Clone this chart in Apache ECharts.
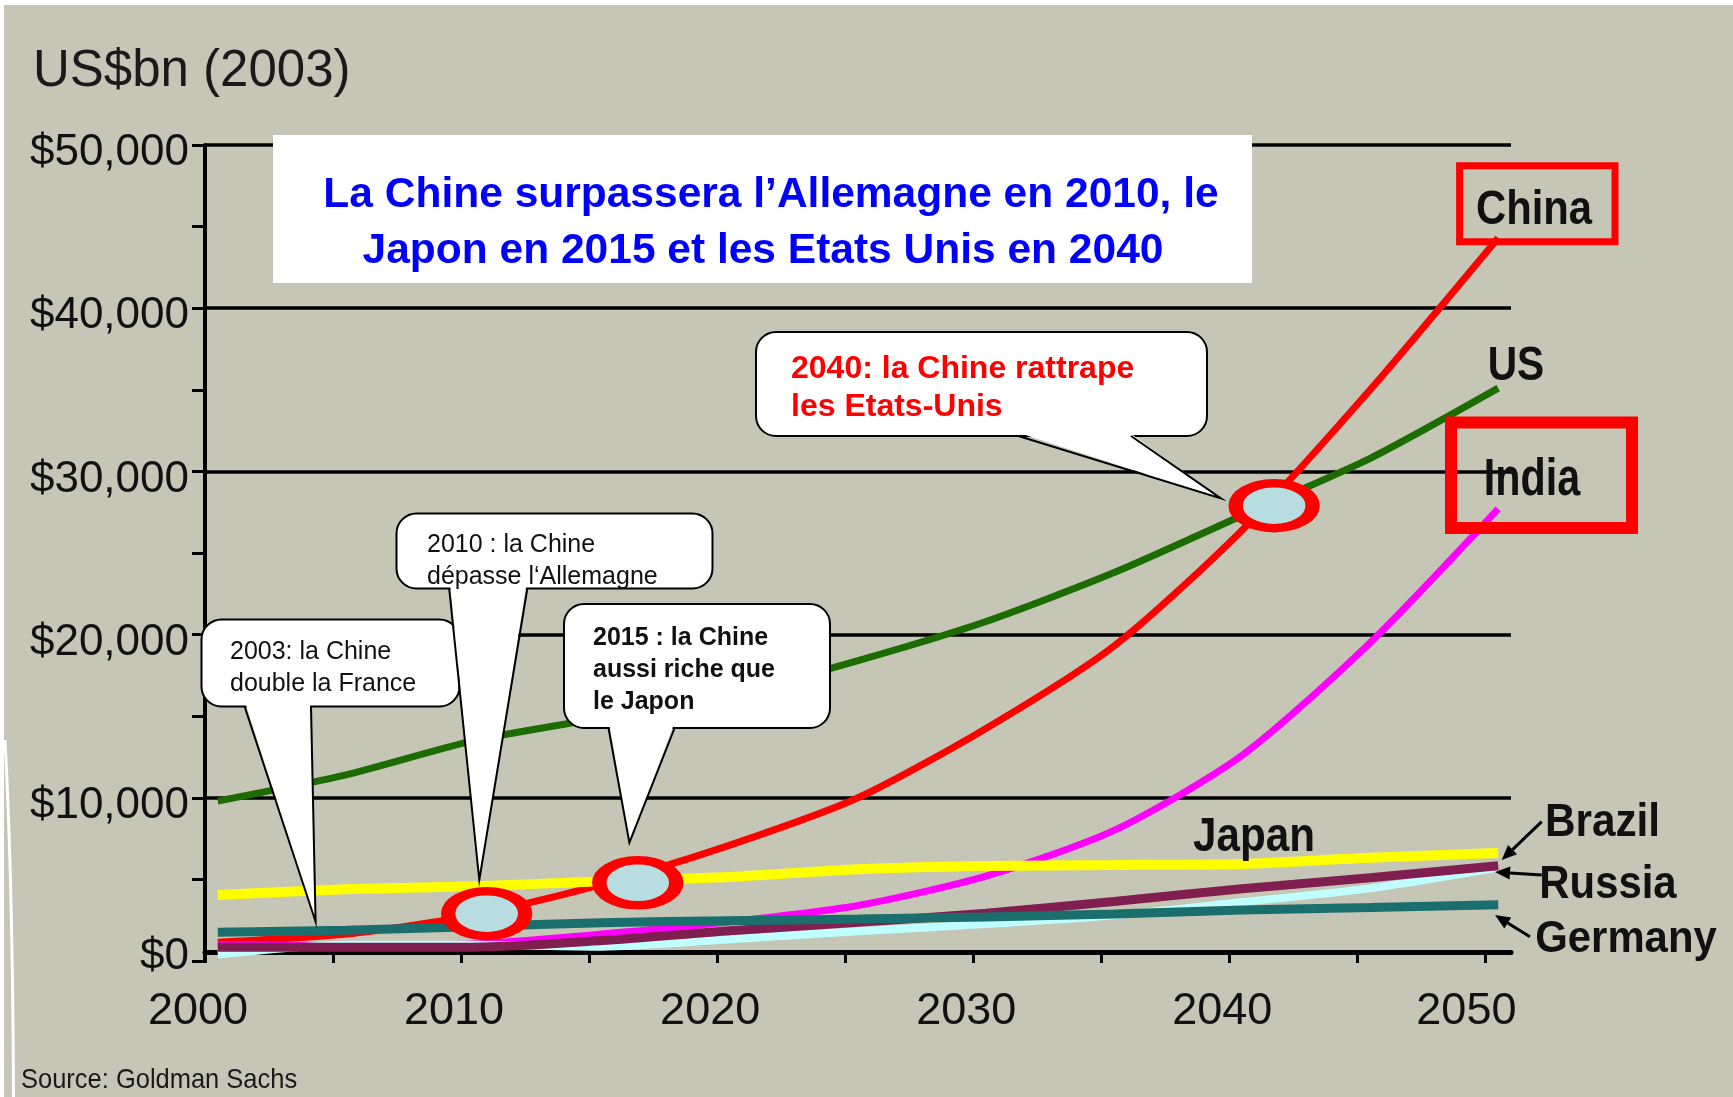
<!DOCTYPE html>
<html><head><meta charset="utf-8">
<script src="https://cdn.jsdelivr.net/npm/echarts@6/dist/echarts.min.js"></script>
<style>html,body{margin:0;padding:0;background:#fff}#c{width:1733px;height:1097px}</style>
</head><body><div id="c"></div>
<script>
// ---- data (US$bn, 2003 prices) ----
const years   = [2000, 2005, 2010, 2015, 2020, 2025, 2030, 2035, 2040, 2045, 2050];
const us      = [9800, 11400, 13500, 14900, 16300, 18400, 20800, 23800, 27300, 30800, 35100];
const china   = [1150, 1650, 2800, 4700, 7100, 10000, 14250, 19300, 26400, 35000, 44300];
const india   = [1000, 950, 1050, 1650, 2400, 3400, 5200, 8000, 12600, 19500, 27700];
const japan   = [4050, 4400, 4580, 4880, 5150, 5620, 5820, 5880, 5950, 6330, 6620];
const germany = [1760, 1880, 2100, 2350, 2470, 2570, 2700, 2880, 3120, 3280, 3440];
const russia  = [850, 850, 850, 1250, 1850, 2380, 2920, 3650, 4430, 5100, 5830];
const brazil  = [400, 1000, 1000, 880, 1330, 1820, 2260, 2800, 3610, 4450, 5720];
// highlighted crossing points (ellipses)
const crossYears  = [2010.5, 2016.4, 2041.25];
const crossValues = [2900, 4790, 27900];
// axis tick labels
const xTickLabels = ['2000', '2010', '2020', '2030', '2040', '2050'];
const yTickValues = [0, 10000, 20000, 30000, 40000, 50000];

const AXF = "'Liberation Sans',Arial,Helvetica,sans-serif";
const SANS = "'Liberation Sans',Arial,Helvetica,sans-serif";

const chart = echarts.init(document.getElementById('c'), null, {renderer: 'canvas', width: 1733, height: 1097});

function pairs(vals) { return years.map((y, i) => [y, vals[i]]); }

const defs = [
  {name: 'China',   vals: china,   color: '#FF0000', w: 7},
  {name: 'India',   vals: india,   color: '#FF00FF', w: 7},
  {name: 'Brazil',  vals: brazil,  color: '#C0FFFF', w: 8},
  {name: 'Russia',  vals: russia,  color: '#801E50', w: 9},
  {name: 'Germany', vals: germany, color: '#1A6E6B', w: 9},
  {name: 'Japan',   vals: japan,   color: '#FFFF00', w: 10},
  {name: 'US',      vals: us,      color: '#1C6C02', w: 7}
];

const series = defs.map(d => ({
  name: d.name, type: 'line', data: pairs(d.vals), showSymbol: false, smooth: 0.25,
  lineStyle: {color: d.color, width: d.w, cap: 'butt'}, itemStyle: {color: d.color},
  silent: true, z: 2
}));
series.push({
  name: 'crossings', type: 'scatter', z: 5, silent: true,
  data: crossYears.map((y, i) => [y, crossValues[i]]),
  symbol: 'path://M0,50 A50,50 0 1,1 100,50 A50,50 0 1,1 0,50 Z',
  symbolSize: [77, 45],
  itemStyle: {color: '#B8DDE0', borderColor: '#FF0000', borderWidth: 11, opacity: 1}
});

// tick positions sit half a year before each labelled year
const tickVals = years.map(y => y - 0.5);
const labelVals = xTickLabels.map(t => Number(t) - 0.5);

// ---- annotation helpers ----
function callout(x, y, w, h, b1, b2, tx, ty, z) {
  return [
    {type: 'rect', z: z, shape: {x: x, y: y, width: w, height: h, r: 20}, style: {fill: '#fff', stroke: '#000', lineWidth: 2}},
    {type: 'polygon', z: z + 1, shape: {points: [[b1 + 1, y + h - 3], [tx, ty], [b2 - 1, y + h - 3]]}, style: {fill: '#fff'}},
    {type: 'polyline', z: z + 1, shape: {points: [[b1, y + h], [tx, ty], [b2, y + h]]}, style: {stroke: '#000', lineWidth: 2, fill: null}}
  ];
}
function txt(t, x, y, size, opts) {
  opts = opts || {};
  return {
    type: 'text', x: x, y: y + 0.08 * size, z: opts.z || 20, scaleX: opts.sx || 1, silent: true,
    style: {
      text: t, fontSize: size, fontFamily: opts.family || SANS, fontWeight: opts.bold ? 'bold' : 'normal',
      fill: opts.color || '#111', align: opts.align || 'left', verticalAlign: 'middle',
      textAlign: opts.align || 'left', textVerticalAlign: 'middle'
    }
  };
}
function arrow(x1, y1, x2, y2) {
  const dx = x2 - x1, dy = y2 - y1, L = Math.hypot(dx, dy), ux = dx / L, uy = dy / L;
  const hl = 15, hw = 6.5, bx = x2 - ux * hl, by = y2 - uy * hl, px = -uy, py = ux;
  return [
    {type: 'line', z: 20, shape: {x1: x1, y1: y1, x2: bx, y2: by}, style: {stroke: '#000', lineWidth: 3}},
    {type: 'polygon', z: 20, shape: {points: [[x2, y2], [bx + px * hw, by + py * hw], [bx - px * hw, by - py * hw]]}, style: {fill: '#000'}}
  ];
}

const elements = [].concat(
  // white frame bits of the original picture
  [{type: 'rect', z: 30, shape: {x: 0, y: 0, width: 1733, height: 5}, style: {fill: '#fff'}},
   {type: 'rect', z: 30, shape: {x: 0, y: 0, width: 4, height: 1097}, style: {fill: '#fff'}},
   {type: 'bezierCurve', z: 30, shape: {x1: 5, y1: 740, cpx1: 11, cpy1: 850, cpx2: 13, cpy2: 980, x2: 13.5, y2: 1097}, style: {stroke: '#fff', lineWidth: 3, fill: null}}],
  // unit title and source
  [txt('US$bn (2003)', 33, 68, 51, {color: '#1a1a1a'}),
   txt('Source: Goldman Sachs', 21, 1078, 28, {color: '#1a1a1a', sx: 0.91})],
  // headline box
  [{type: 'rect', z: 15, shape: {x: 273, y: 135, width: 979, height: 148}, style: {fill: '#fff'}},
   txt('La Chine surpassera l\u2019Allemagne en 2010, le', 771, 192, 42.5, {bold: true, color: '#0000FF', align: 'center'}),
   txt('Japon en 2015 et les Etats Unis en 2040', 763, 247.5, 42.5, {bold: true, color: '#0000FF', align: 'center'})],
  // callouts
  callout(201.5, 619.5, 258, 87, 244.6, 311, 315.6, 921.7, 10),
  [txt('2003: la Chine', 230, 650, 25), txt('double la France', 230, 681.7, 25)],
  callout(396.5, 513.5, 316, 75, 449.2, 527.3, 479.3, 880, 22),
  [txt('2010 : la Chine', 427, 543, 25, {z: 26}), txt('d\u00e9passe l\u2018Allemagne', 427, 575, 25, {z: 26})],
  callout(564, 604, 266, 124, 608.5, 674.6, 629.4, 842.7, 10),
  [txt('2015 : la Chine', 593, 636, 25, {bold: true}), txt('aussi riche que', 593, 668.3, 25, {bold: true}), txt('le Japon', 593, 700, 25, {bold: true})],
  callout(756, 332, 451, 104, 1018.4, 1131, 1221, 498.5, 10),
  [txt('2040: la Chine rattrape', 791, 366.7, 32, {bold: true, color: '#FF0000'}), txt('les Etats-Unis', 791, 405, 32, {bold: true, color: '#FF0000'})],
  // country labels
  [{type: 'rect', z: 18, shape: {x: 1459.6, y: 165.7, width: 155.4, height: 76}, style: {fill: null, stroke: '#FF0000', lineWidth: 7}},
   {type: 'rect', z: 18, shape: {x: 1451, y: 422.5, width: 181, height: 105.5}, style: {fill: null, stroke: '#FF0000', lineWidth: 12}},
   txt('China', 1534, 207, 48, {bold: true, align: 'center', sx: 0.87}),
   txt('US', 1516, 362.5, 49, {bold: true, align: 'center', sx: 0.83}),
   txt('India', 1532, 476.7, 51, {bold: true, align: 'center', sx: 0.81}),
   txt('Japan', 1254, 834, 49, {bold: true, align: 'center', sx: 0.86}),
   txt('Brazil', 1602.5, 820, 46, {bold: true, align: 'center', sx: 0.92}),
   txt('Russia', 1608, 881.7, 46, {bold: true, align: 'center', sx: 0.91}),
   txt('Germany', 1626, 936, 45, {bold: true, align: 'center', sx: 0.93})],
  arrow(1541.7, 821.7, 1501.7, 860),
  arrow(1541.7, 875, 1495, 872),
  arrow(1530, 936.7, 1495, 915)
);

chart.setOption({
  animation: false,
  backgroundColor: '#C5C6B5',
  grid: {left: 205, right: 222, top: 145, bottom: 136, containLabel: false},
  xAxis: {
    type: 'value', min: 1999.5, max: 2050.5, interval: 5, offset: -9,
    axisLine: {show: true, onZero: false, lineStyle: {color: '#000', width: 5}},
    axisTick: {show: true, length: 11, customValues: tickVals, lineStyle: {color: '#000', width: 3}},
    axisLabel: {
      customValues: labelVals, margin: 60, verticalAlign: 'middle',
      fontFamily: AXF, fontSize: 45, color: '#111',
      formatter: function (v) {
        const i = labelVals.indexOf(v);
        if (i < 0) return '';
        return i === labelVals.length - 1 ? '{e|' + xTickLabels[i] + '}' : '{n|' + xTickLabels[i] + '}';
      },
      rich: {
        n: {fontFamily: AXF, fontSize: 45, color: '#111', padding: [0, 14, 0, 0]},
        e: {fontFamily: AXF, fontSize: 45, color: '#111', padding: [0, 38, 0, 0]}
      }
    },
    splitLine: {show: false}
  },
  yAxis: {
    type: 'value', min: 0, max: 50000, interval: 10000,
    axisLine: {show: true, lineStyle: {color: '#000', width: 4}},
    axisTick: {show: true, length: 13, lineStyle: {color: '#000', width: 3}},
    minorTick: {show: true, splitNumber: 2, length: 13, lineStyle: {color: '#000', width: 3}},
    axisLabel: {
      margin: 16, fontFamily: AXF, fontSize: 44, color: '#111',
      formatter: function (v) {
        if (yTickValues.indexOf(v) < 0) return '';
        return v === 0 ? '{z|$0}' : '{g|$' + v.toLocaleString('en-US') + '}';
      },
      rich: {
        z: {fontFamily: AXF, fontSize: 44, color: '#111', padding: [0, 0, 8, 0]},
        g: {fontFamily: AXF, fontSize: 44, color: '#111', padding: [16, 0, 0, 0]}
      }
    },
    splitLine: {show: true, showMinLine: false, showMaxLine: true, lineStyle: {color: '#000', width: 3.5}}
  },
  series: series,
  graphic: {elements: elements}
});
</script>
</body></html>
